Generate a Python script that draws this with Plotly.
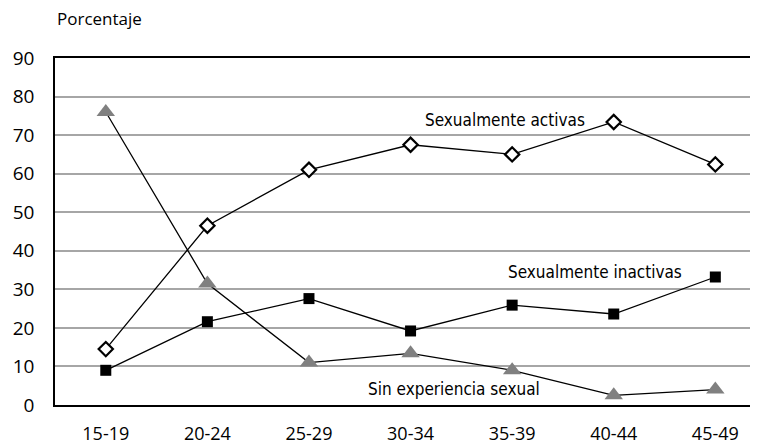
import plotly.graph_objs as go

grupos = ["15-19", "20-24", "25-29", "30-34", "35-39", "40-44", "45-49"]
activas = [14.5, 46.5, 61.0, 67.5, 65.0, 73.4, 62.4]
inactivas = [9.0, 21.6, 27.6, 19.2, 25.9, 23.6, 33.2]
sin_experiencia = [76.0, 31.5, 11.0, 13.4, 9.0, 2.5, 4.0]

font_main = "Open Sans, Noto Sans, sans-serif"
font_label = "DejaVu Sans Condensed, Roboto, sans-serif"

data = [
    go.Scatter(
        x=grupos, y=activas, mode='lines+markers', name="Sexualmente activas",
        line=dict(color='black', width=1.3),
        marker=dict(symbol='diamond', size=11, color='white',
                    line=dict(color='black', width=2.2))),
    go.Scatter(
        x=grupos, y=inactivas, mode='lines+markers', name="Sexualmente inactivas",
        line=dict(color='black', width=1.3),
        marker=dict(symbol='square', size=11, color='black')),
    go.Scatter(
        x=grupos, y=sin_experiencia, mode='lines+markers', name="Sin experiencia sexual",
        line=dict(color='black', width=1.3),
        marker=dict(symbol='triangle-up', size=16, color='#808080')),
]

# page body has an 8px margin, so the figure is a bit smaller than the window
layout = go.Layout(
    width=750, height=437,
    margin=dict(l=47, r=0, t=50, b=31),
    paper_bgcolor='white', plot_bgcolor='white',
    showlegend=False,
    font=dict(family=font_main, color='black'),
    xaxis=dict(
        type='category', range=[-0.5, 6.42],
        showgrid=False, showline=True, linecolor='black', linewidth=1.5,
        mirror=True, ticks='', ticklabelstandoff=12,
        tickfont=dict(size=18)),
    yaxis=dict(
        range=[0, 90], dtick=10,
        showgrid=True, gridcolor='#a6a6a6', gridwidth=1.5,
        showline=True, linecolor='black', linewidth=1.5,
        zeroline=False, ticks='', ticklabelstandoff=15,
        tickfont=dict(size=19)),
    annotations=[
        dict(text="Porcentaje", xref='paper', yref='paper', x=0, y=1.115,
             xanchor='left', yanchor='middle', showarrow=False,
             font=dict(size=17, family=font_main)),
        dict(text="Sexualmente activas", xref='x', yref='y', x=3.93, y=73.9,
             xanchor='center', yanchor='middle', showarrow=False,
             font=dict(size=17, family=font_label)),
        dict(text="Sexualmente inactivas", xref='x', yref='y', x=4.82, y=34.6,
             xanchor='center', yanchor='middle', showarrow=False,
             font=dict(size=17, family=font_label)),
        dict(text="Sin experiencia sexual", xref='x', yref='y', x=3.43, y=4.1,
             xanchor='center', yanchor='middle', showarrow=False,
             font=dict(size=17, family=font_label)),
    ],
)

fig = go.Figure(data=data, layout=layout)
fig.write_html("out.html")
